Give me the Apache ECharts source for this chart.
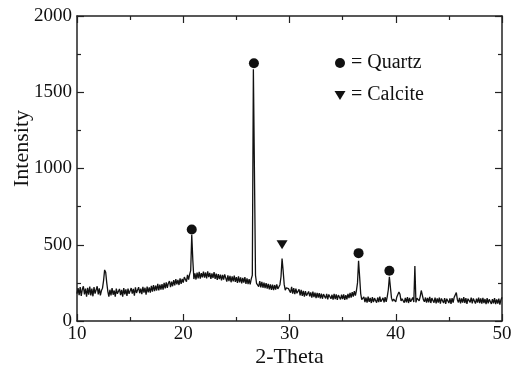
<!DOCTYPE html>
<html><head><meta charset="utf-8">
<script src="https://cdn.jsdelivr.net/npm/echarts@6/dist/echarts.min.js"></script>
<style>html,body{margin:0;padding:0;background:#fff}#c{width:519px;height:367px}</style>
</head><body><div id="c"></div>
<script>
// 2-Theta grid of the measurement
const thetaStart = 10.0;
const thetaStep = 0.1;
// Intensity values, one per 0.1 degree from 10.0 to 50.0
const intensity = [
180,215,170,222,165,208,228,175,212,160,
218,172,226,168,212,162,222,180,170,228,
175,214,168,200,215,265,335,320,250,195,
160,205,168,215,172,200,160,212,178,168,
210,170,204,160,216,175,208,165,212,178,
172,216,180,210,166,220,184,176,222,182,
212,176,224,186,218,172,226,188,220,186,
230,192,236,196,232,200,244,200,238,206,
242,206,250,214,254,218,248,262,222,258,
228,268,234,274,240,270,236,280,244,276,
252,288,296,258,302,272,306,330,565,400,
275,312,272,318,280,322,278,314,286,324,
284,318,280,326,288,316,276,312,282,320,
276,310,270,308,274,304,266,302,272,306,
294,258,300,262,296,254,292,260,298,256,
288,250,292,254,286,246,282,252,288,244,
280,242,274,240,276,300,1650,980,300,246,
258,226,262,220,256,218,252,216,248,212,
244,208,240,204,238,202,236,206,240,210,
204,238,290,410,330,240,202,218,206,212,
220,186,224,180,216,176,212,182,172,208,
168,204,164,198,160,196,166,158,194,162,
188,154,192,156,186,150,184,154,182,148,
180,146,176,184,148,178,142,174,182,146,
172,140,178,144,174,138,170,176,142,172,
144,174,138,170,142,178,150,184,154,190,
160,196,166,200,250,395,290,180,140,150,
158,124,154,120,160,126,152,118,156,124,
150,158,120,154,124,160,126,116,152,122,
156,126,160,205,290,220,150,130,144,156,
126,158,165,190,175,132,146,156,120,152,
122,156,118,152,126,116,154,124,360,122,
150,156,132,160,200,188,140,126,154,120,
152,122,158,118,150,156,120,154,116,148,
120,154,114,148,158,118,150,112,146,152,
118,148,112,150,120,156,165,186,140,122,
152,116,148,120,156,118,150,112,146,158,
122,154,116,148,152,114,146,120,154,118,
148,114,152,118,144,110,150,116,142,146,
112,144,116,150,110,142,114,146,108,140,
155
];
// Phase markers
const quartzTheta = [20.8, 26.65, 36.5, 39.4];
const quartzMark = [600, 1690, 445, 330];
const calciteTheta = [29.3];
const calciteMark = [500];
// Axis ticks
const xMin = 10, xMax = 50, xStep = 10;
const yMin = 0, yMax = 2000, yStep = 500;

const FONT = '"Liberation Serif","DejaVu Serif",serif';
const lineData = intensity.map((v, i) => [+(thetaStart + i * thetaStep).toFixed(2), v]);
const qData = quartzTheta.map((t, i) => [t, quartzMark[i]]);
const cData = calciteTheta.map((t, i) => [t, calciteMark[i]]);

const axisCommon = {
  axisLine: { show: true, onZero: false, lineStyle: { color: '#222', width: 1.5 } },
  axisTick: { show: true, inside: true, length: 7, lineStyle: { color: '#222', width: 1.2 } },
  minorTick: { show: true, splitNumber: 2, length: 4, lineStyle: { color: '#222', width: 1.2 } },
  splitLine: { show: false }
};
const fmt = v => String(v);

const chart = echarts.init(document.getElementById('c'), null, { renderer: 'canvas' });
chart.setOption({
  animation: false,
  backgroundColor: '#fff',
  grid: { left: 77, right: 17, top: 16, bottom: 46, containLabel: false, outerBoundsMode: 'none' },
  xAxis: [
    Object.assign({}, axisCommon, {
      type: 'value', min: xMin, max: xMax, interval: xStep, position: 'bottom',
      name: '2-Theta', nameLocation: 'middle', nameGap: 25, nameMoveOverlap: false,
      nameTextStyle: { fontFamily: FONT, fontSize: 22, color: '#111' },
      axisLabel: { fontFamily: FONT, fontSize: 19, color: '#111', margin: 4, formatter: fmt }
    }),
    Object.assign({}, axisCommon, {
      type: 'value', min: xMin, max: xMax, interval: xStep, position: 'top',
      axisLabel: { show: false }
    })
  ],
  yAxis: [
    Object.assign({}, axisCommon, {
      type: 'value', min: yMin, max: yMax, interval: yStep, position: 'left',
      name: 'Intensity', nameLocation: 'middle', nameGap: 44, nameRotate: 90, nameMoveOverlap: false,
      nameTextStyle: { fontFamily: FONT, fontSize: 22, color: '#111', padding: [0, 0, 0, 40] },
      axisLabel: { fontFamily: FONT, fontSize: 19, color: '#111', margin: 5, formatter: fmt }
    }),
    Object.assign({}, axisCommon, {
      type: 'value', min: yMin, max: yMax, interval: yStep, position: 'right',
      axisLabel: { show: false }
    })
  ],
  series: [
    {
      type: 'line', data: lineData, showSymbol: false, symbol: 'none',
      lineStyle: { color: '#111', width: 1.3 }, xAxisIndex: 0, yAxisIndex: 0
    },
    {
      type: 'scatter', data: qData, symbol: 'circle', symbolSize: 10,
      itemStyle: { color: '#111', opacity: 1 }, xAxisIndex: 0, yAxisIndex: 0
    },
    {
      type: 'scatter', data: cData, symbol: 'triangle', symbolSize: [11, 9], symbolRotate: 180,
      itemStyle: { color: '#111', opacity: 1 }, xAxisIndex: 0, yAxisIndex: 0
    }
  ],
  graphic: [
    { type: 'circle', shape: { cx: 340, cy: 63, r: 5 }, style: { fill: '#111' } },
    { type: 'text', x: 351, y: 63, style: { text: '= Quartz', font: '20px ' + FONT, fill: '#111', verticalAlign: 'middle' } },
    { type: 'polygon', shape: { points: [[334.5, 91], [345.5, 91], [340, 100]] }, style: { fill: '#111' } },
    { type: 'text', x: 351, y: 95, style: { text: '= Calcite', font: '20px ' + FONT, fill: '#111', verticalAlign: 'middle' } }
  ]
});
</script></body></html>
